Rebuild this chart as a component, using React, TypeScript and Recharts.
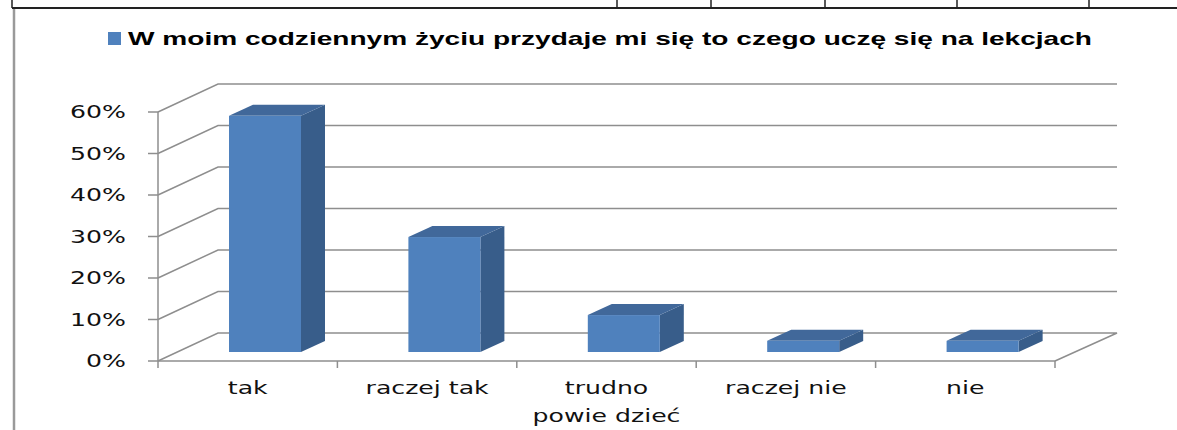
import React from "react"
import { BarChart, Bar, XAxis, YAxis, CartesianGrid } from "recharts"

const categories = ["tak", "raczej tak", "trudno powie dzieć", "raczej nie", "nie"]
const values = [56.9, 27.7, 8.9, 2.7, 2.7]
const yTicks = [0, 10, 20, 30, 40, 50, 60]
const seriesName = "W moim codziennym życiu przydaje mi się to czego uczę się na lekcjach"

const data = categories.map((name, i) => ({ name, value: values[i] }))

// głębokość ścian (perspektywa w stylu Excela 3D)
const DEPTH_X = 60
const DEPTH_Y = 28
const STRETCH = 1.48
const FONT = "'DejaVu Sans', Verdana, sans-serif"
const GRID = "#8e8e8e"

const PLOT_LEFT = 158
const PLOT_RIGHT = 1055
const PLOT_TOP = 112
const PLOT_BOTTOM = 361
const BAND = (PLOT_RIGHT - PLOT_LEFT) / categories.length

function GridLine(props: any) {
  const { x1, x2, y1, index } = props
  const bx = x1 + DEPTH_X
  const by = y1 - DEPTH_Y
  let pts = `${x1},${y1} ${bx},${by} ${x2 + DEPTH_X + 2},${by}`
  // podłoga: prawa krawędź
  if (Math.abs(y1 - PLOT_BOTTOM) < 1) pts += ` ${x2},${y1}`
  return <polyline key={`grid-${index}-${y1}`} points={pts} fill="none" stroke={GRID} strokeWidth={1.5} />
}

function Box3D(props: any) {
  const { x, y, width, height } = props
  const fx = x + 17
  const top = y - 9
  const bot = y + height - 9
  const sx = 24
  const sy = 11
  const r = fx + width
  return (
    <g>
      <polygon points={`${r},${top} ${r + sx},${top - sy} ${r + sx},${bot - sy} ${r},${bot}`} fill="#385d8a" />
      <polygon points={`${fx},${top} ${fx + sx},${top - sy} ${r + sx},${top - sy} ${r},${top}`} fill="#41689a" />
      <rect x={fx} y={top} width={width} height={Math.max(bot - top, 0)} fill="#4f81bd" />
    </g>
  )
}

function YTick(props: any) {
  const { x, y, payload } = props
  return (
    <g transform={`translate(${x},${y}) scale(${STRETCH},1)`}>
      <text x={0} y={0} dy="0.36em" textAnchor="end" fontFamily={FONT} fontSize={17} fill="#111">
        {payload.value}%
      </text>
    </g>
  )
}

function XTick(props: any) {
  const { x, y, payload, index } = props
  const label: string = payload.value
  const lines = label.length > 12 ? [label.slice(0, label.indexOf(" ")), label.slice(label.indexOf(" ") + 1)] : [label]
  const axisY = y - 7
  return (
    <g>
      <line x1={x - BAND / 2} x2={x - BAND / 2} y1={axisY} y2={axisY + 7} stroke={GRID} strokeWidth={1.5} />
      {index === categories.length - 1 && (
        <line x1={x + BAND / 2} x2={x + BAND / 2} y1={axisY} y2={axisY + 7} stroke={GRID} strokeWidth={1.5} />
      )}
      <g transform={`translate(${x},${axisY}) scale(${STRETCH},1)`}>
        {lines.map((l, i) => (
          <text key={i} x={0} y={33 + i * 28} textAnchor="middle" fontFamily={FONT} fontSize={17} fill="#111">
            {l}
          </text>
        ))}
      </g>
    </g>
  )
}

export default function App() {
  return (
    <div style={{ position: "absolute", left: 0, top: 0, width: 1177, height: 430, background: "#fff", overflow: "hidden" }}>
      <BarChart
        width={1177}
        height={430}
        data={data}
        margin={{ top: PLOT_TOP, right: 1177 - PLOT_RIGHT, bottom: 0, left: PLOT_LEFT - 60 }}
      >
        <CartesianGrid vertical={false} horizontal={(p: any) => <GridLine {...p} />} />
        <XAxis
          dataKey="name"
          height={430 - PLOT_BOTTOM}
          interval={0}
          axisLine={{ stroke: GRID, strokeWidth: 1.5 }}
          tickLine={false}
          tickSize={7}
          tickMargin={0}
          tick={<XTick />}
        />
        <YAxis
          width={60}
          domain={[0, 60]}
          ticks={yTicks}
          interval={0}
          axisLine={{ stroke: GRID, strokeWidth: 1.5 }}
          tickLine={{ stroke: GRID, strokeWidth: 1.5 }}
          tickSize={10}
          tickMargin={22}
          tick={<YTick />}
        />
        <Bar dataKey="value" barSize={72} shape={<Box3D />} isAnimationActive={false} />
      </BarChart>
      <svg width={1177} height={430} style={{ position: "absolute", left: 0, top: 0, pointerEvents: "none" }}>
        <line x1={12} x2={1177} y1={8} y2={8} stroke="#222" strokeWidth={2} />
        {[12, 617, 711, 825, 957, 1089].map((vx) => (
          <line key={vx} x1={vx} x2={vx} y1={0} y2={8} stroke="#222" strokeWidth={1.5} />
        ))}
        <line x1={14} x2={14} y1={9} y2={430} stroke="#9a9a9a" strokeWidth={2.5} />
        <rect x={108} y={32} width={13} height={13} fill="#4f81bd" />
        <text
          x={128}
          y={45}
          textLength={964}
          lengthAdjust="spacingAndGlyphs"
          fontFamily="'Liberation Sans', Arial, sans-serif"
          fontWeight="bold"
          fontSize={19}
          fill="#000"
        >
          {seriesName}
        </text>
      </svg>
    </div>
  )
}
